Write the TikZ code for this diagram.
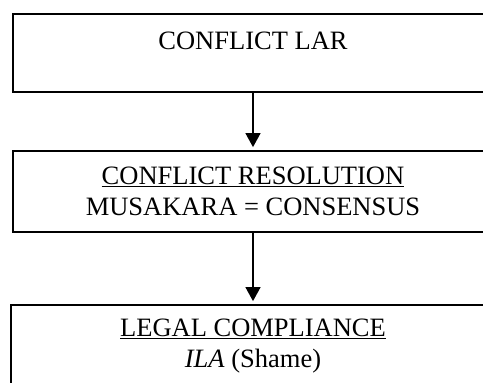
\documentclass[tikz,border=0pt]{standalone}
\usepackage{fontspec}
\setmainfont{Liberation Serif}
\usetikzlibrary{arrows.meta}
\begin{document}
\begin{tikzpicture}[x=1pt,y=-1pt,
  stage/.style={draw, line width=1.8pt, rectangle, minimum width=480pt, inner sep=0pt, align=center, font=\fontsize{26.5}{30.5}\selectfont},
  flow/.style={-{Triangle[width=15pt,length=14pt]}, line width=1.3pt, shorten >=3pt}]
\useasboundingbox (0,0) rectangle (483,383);
\clip (0,0) rectangle (483,383);
\node[stage, text height=35pt, text depth=43pt] (lar) at (253,53) {CONFLICT LAR};
\node[stage, minimum height=81pt] (res) at (253,191.5) {\underline{CONFLICT RESOLUTION}\\MUSAKARA = CONSENSUS};
\node[stage, minimum height=82pt, minimum width=484pt] (comp) at (253,346) {\underline{LEGAL COMPLIANCE}\\\textit{ILA} (Shame)};

\draw[flow] (lar) -- (res);
\draw[flow] (res) -- (comp);
\end{tikzpicture}
\end{document}
